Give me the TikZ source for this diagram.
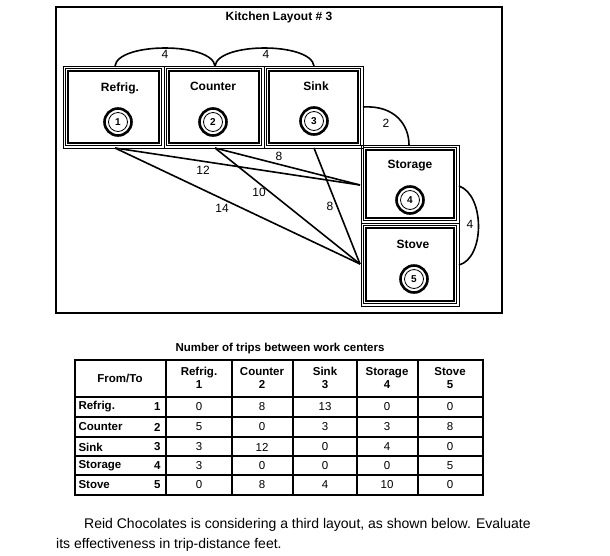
\documentclass[tikz,border=0pt]{standalone}
\usepackage{fontspec}
\setmainfont{Liberation Sans}
\begin{document}
\begin{tikzpicture}[x=1pt,y=-1pt,
  room/.style={draw=none},
  lab/.style={font=\fontsize{12}{14}\selectfont\bfseries},
  num/.style={font=\fontsize{12}{14}\selectfont, fill=white, inner sep=0.5pt},
  tb/.style={font=\fontsize{11.5}{13}\selectfont\bfseries, align=center},
  td/.style={font=\fontsize{11.5}{13}\selectfont},
  link/.style={line width=1.6pt}]
\useasboundingbox (0,0) rectangle (610,555);
\draw[line width=1.2pt] (56,7) rectangle (502,313);
\node[lab] (title) at (279,17) {Kitchen Layout \# 3};
% rooms
\newcommand{\roomrect}[5]{%
  \draw[line width=1pt] (#1,#2) rectangle (#3,#4);
  \draw[line width=0.8pt] (#1+2.5,#2+2.5) rectangle (#3-2.5,#4-2.5);
  \draw[line width=1.4pt] (#1+5,#2+5) rectangle (#3-5,#4-5);
  \coordinate (#5) at ({(#1+#3)/2},{(#2+#4)/2});}
\roomrect{63}{66}{164}{148}{R}
\roomrect{164}{66}{264}{148}{C}
\roomrect{264}{66}{363}{148}{S}
\roomrect{361}{145}{459}{223}{G}
\roomrect{361}{223}{459}{306}{V}
\node[lab] (tR) at (120,88) {Refrig.};
\node[lab] (tC) at (213,86) {Counter};
\node[lab] (tS) at (316,86) {Sink};
\node[lab] (tG) at (410,166) {Storage};
\node[lab] (tV) at (413,244) {Stove};
\foreach \n/\x/\y in {1/118/122,2/213/122,3/314/121,4/410/200,5/414/279}{
  \draw[line width=2.6pt] (\x,\y) circle (13.5);
  \draw[line width=0.8pt] (\x,\y) circle (9.5);
  \node[font=\fontsize{10}{12}\selectfont\bfseries] (c\n) at (\x,\y) {\n};
}
% connection points
\coordinate (Rt) at (115,66); \coordinate (Ct) at (215,66); \coordinate (St) at (314,66);
\coordinate (Rb) at (115,148); \coordinate (Cb) at (215,148); \coordinate (Sb) at (314,148);
\coordinate (Sr) at (363,107); \coordinate (Gt) at (409,145);
\coordinate (Gl) at (360,185); \coordinate (Vl) at (360,264);
\coordinate (Gr) at (459,186); \coordinate (Vr) at (459,265);
\draw[link] (Rt) .. controls (118,42) and (212,42) .. (Ct);
\draw[link] (Ct) .. controls (218,42) and (311,42) .. (St);
\draw[link] (Sr) .. controls (395,105) and (409,125) .. (Gt);
\draw[link] (Gr) .. controls (485,195) and (485,258) .. (Vr);
\draw[link] (Rb) -- (Gl);
\draw[link] (Rb) -- (Vl);
\draw[link] (Cb) -- (Gl);
\draw[link] (Cb) -- (Vl);
\draw[link] (Sb) -- (Vl);
\node[num] (a1) at (165,54) {4};
\node[num] (a2) at (266,54) {4};
\node[num] (a3) at (386,123) {2};
\node[num] (a4) at (470,224) {4};
\node[num,fill=none] (l12) at (203,170) {12};
\node[num,fill=none] (l14) at (222,208) {14};
\node[num,fill=none] (l8a) at (279,156) {8};
\node[num,fill=none] (l10) at (259,192) {10};
\node[num,fill=none] (l8b) at (330,206) {8};
% table
\node[tb] (tt) at (280,349) {Number of trips between work centers};
\draw[line width=1.6pt] (75,360) rectangle (483,495);
\foreach \x in {166,232,293,357,418} \draw[line width=1.3pt] (\x,360) -- (\x,495);
\foreach \y in {397,417,437,456,475} \draw[line width=1.3pt] (75,\y) -- (483,\y);
\node[tb] (hft) at (120,378) {From/To};
\foreach \c/\x/\n/\lb in {1/199/Refrig./1,2/262/Counter/2,3/325/Sink/3,4/387/Storage/4,5/450/Stove/5}
  \node[tb] (h\c) at (\x,378) {\n\\\lb};
\foreach \r/\y/\n in {1/407/Refrig.,2/427/Counter,3/447/Sink,4/466/Storage,5/485/Stove}{
  \node[tb,anchor=west] (rn\r) at (75,\y) {\n};
  \node[tb,anchor=east] (ri\r) at (164,\y) {\r};
}
\foreach \y/\a/\b/\c/\d/\e in {407/0/8/13/0/0,427/5/0/3/3/8,447/3/12/0/4/0,466/3/0/0/0/5,485/0/8/4/10/0}{
  \node[td] at (199,\y) {\a};
  \node[td] at (262,\y) {\b};
  \node[td] at (325,\y) {\c};
  \node[td] at (387,\y) {\d};
  \node[td] at (450,\y) {\e};
}
\node[font=\fontsize{14}{16}\selectfont, anchor=west, inner sep=0] (p1) at (84,525) {Reid Chocolates is considering a third layout, as shown below. Evaluate};
\node[font=\fontsize{14}{16}\selectfont, anchor=west, inner sep=0] (p2) at (56,545) {its effectiveness in trip-distance feet.};
\end{tikzpicture}
\end{document}
